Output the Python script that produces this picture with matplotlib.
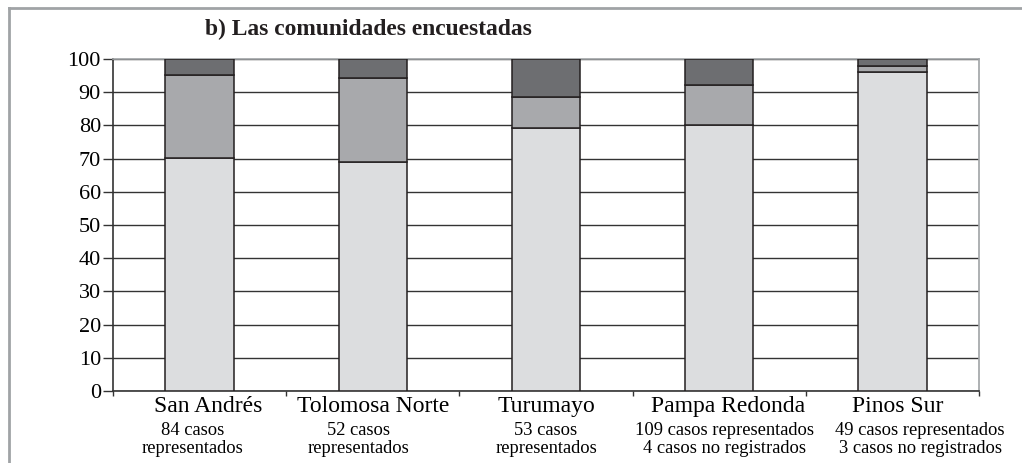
import matplotlib
matplotlib.use("Agg")
import matplotlib.pyplot as plt
from matplotlib.lines import Line2D
import numpy as np

# ─────────────── данные ───────────────
comunidades = ["San Andrés", "Tolomosa Norte", "Turumayo", "Pampa Redonda", "Pinos Sur"]
casos = [
    "84 casos\nrepresentados",
    "52 casos\nrepresentados",
    "53 casos\nrepresentados",
    "109 casos representados\n4 casos no registrados",
    "49 casos representados\n3 casos no registrados",
]
seg_claro = [70.3, 69.0, 79.2, 80.0, 96.0]
seg_medio = [25.0, 25.2, 9.4, 12.2, 2.0]
seg_oscuro = [4.7, 5.8, 11.4, 7.8, 2.0]
y_ticks = [0, 10, 20, 30, 40, 50, 60, 70, 80, 90, 100]

C_CLARO = "#dcdddf"
C_MEDIO = "#a8a9ac"
C_OSCURO = "#6d6e71"
EDGE = "#231f20"

plt.rcParams["font.family"] = ["Liberation Serif", "DejaVu Serif"]

fig = plt.figure(figsize=(10.22, 4.63), dpi=100)
ax = fig.add_axes([113 / 1022, 72 / 463, 866 / 1022, 332 / 463])

x = np.arange(len(comunidades))
w = 0.395
claro = np.array(seg_claro)
medio = np.array(seg_medio)
oscuro = np.array(seg_oscuro)

for h, b, c in [(claro, 0, C_CLARO), (medio, claro, C_MEDIO), (oscuro, claro + medio, C_OSCURO)]:
    ax.bar(x, h, w, bottom=b, color=c, edgecolor=EDGE, linewidth=1.1, zorder=3)

ax.set_xlim(-0.5, len(comunidades) - 0.5)
ax.set_ylim(0, 100)
ax.set_yticks(y_ticks)
ax.set_yticklabels([str(v) for v in y_ticks], fontsize=16)
ax.yaxis.grid(True, color="#333333", linewidth=1.0, zorder=0)
ax.tick_params(axis="y", length=7.2, width=1.0, pad=1.5, color="#333333")

# ticks en los limites de categoria, etiquetas centradas
ax.set_xticks(np.arange(len(comunidades) + 1) - 0.5)
ax.set_xticklabels([])
ax.tick_params(axis="x", length=3.6, width=1.0, color="#333333")

for sp in ["left", "bottom"]:
    ax.spines[sp].set_color("#333333")
    ax.spines[sp].set_linewidth(1.2)
for sp in ["top", "right"]:
    ax.spines[sp].set_color("#a0a3a6")
    ax.spines[sp].set_linewidth(1.2)

off_nombre = [0.05, 0.0, 0.0, 0.05, 0.03]
off_casos = [-0.04, -0.08, 0.0, 0.03, 0.16]
trans = ax.get_xaxis_transform()
for i in x:
    ax.text(i + off_nombre[i], -0.015, comunidades[i], transform=trans,
            ha="center", va="top", fontsize=17)
    ax.text(i + off_casos[i], -0.093, casos[i], transform=trans,
            ha="center", va="top", fontsize=13.3, linespacing=1.05)

fig.text(205 / 1022, 1 - 35 / 463, "b) Las comunidades encuestadas",
         fontsize=16.9, fontweight="bold", ha="left", va="baseline", color="#231f20")

# marco gris
fig.add_artist(Line2D([9 / 1022, 9 / 1022], [0, 1 - 8 / 463], transform=fig.transFigure,
                      color="#a0a3a6", linewidth=2.0))
fig.add_artist(Line2D([9 / 1022, 1], [1 - 8 / 463, 1 - 8 / 463], transform=fig.transFigure,
                      color="#a0a3a6", linewidth=2.0))

fig.savefig("out.png", dpi=100)
